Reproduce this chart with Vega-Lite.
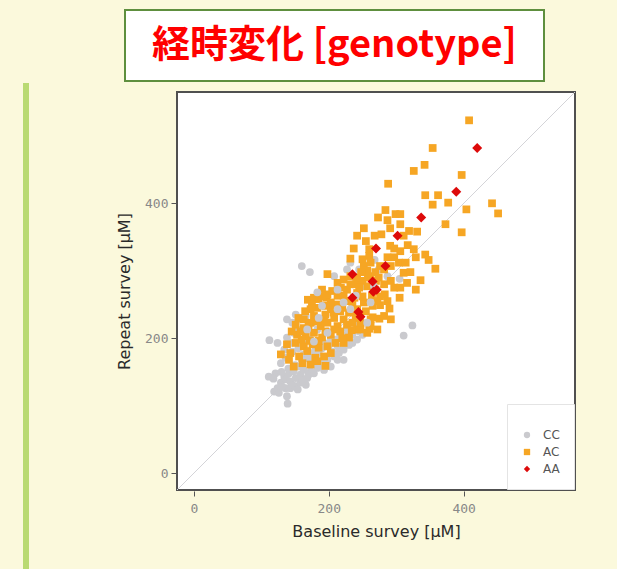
{
  "$schema": "https://vega.github.io/schema/vega-lite/v6.json",
  "background": "#fbf9dc",
  "padding": {"left": 23, "top": 9, "right": 60, "bottom": 0},
  "spacing": 86,
  "align": "none",
  "resolve": {"scale": {"color": "independent", "shape": "independent"}, "legend": {"color": "independent", "shape": "independent"}},
  "hconcat": [
    {
      "spacing": 12,
      "align": "none",
      "vconcat": [
        {
          "width": 6,
          "height": 61,
          "view": {"fill": null, "stroke": null},
          "data": {"values": [{"a": 1}]},
          "mark": {"type": "point", "opacity": 0},
          "encoding": {}
        },
        {
          "width": 6,
          "height": 500,
          "view": {"fill": "#b9da72", "stroke": null},
          "data": {"values": [{"a": 1}]},
          "mark": {"type": "point", "opacity": 0},
          "encoding": {}
        }
      ]
    },
    {
      "spacing": 8,
      "align": "none",
      "resolve": {"scale": {"color": "independent", "shape": "independent"}, "legend": {"color": "independent", "shape": "independent"}},
      "vconcat": [
        {
          "spacing": -57,
          "align": "none",
          "hconcat": [
            {
              "width": 1,
              "height": 71,
              "view": {"fill": null, "stroke": null},
              "data": {"values": [{"a": 1}]},
              "mark": {"type": "point", "opacity": 0},
              "encoding": {}
            },
            {
              "width": 419,
              "height": 71,
              "view": {"fill": "white", "stroke": "#5e8f3e", "strokeWidth": 2},
              "data": {"values": [{"label": "経時変化 [genotype]"}]},
              "mark": {"type": "text", "font": "Noto Sans CJK JP", "fontWeight": "bold", "fontSize": 38, "color": "#ff0000", "align": "center", "baseline": "middle"},
              "encoding": {"text": {"field": "label", "type": "nominal"}}
            }
          ]
        },
        {
          "width": 398,
          "height": 398,
          "view": {"fill": "white", "stroke": "#505050", "strokeWidth": 2},
          "layer": [
            {
              "data": {"values": [{"x": -25, "y": -25, "x2": 565, "y2": 565}]},
              "mark": {"type": "rule", "color": "#d4d4d8", "strokeWidth": 1},
              "encoding": {
                "x": {"field": "x", "type": "quantitative", "title": "Baseline survey [μM]", "scale": {"domain": [-25, 565], "nice": false, "zero": false}, "axis": {"values": [0, 200, 400]}},
                "y": {"field": "y", "type": "quantitative", "title": "Repeat survey [μM]", "scale": {"domain": [-25, 565], "nice": false, "zero": false}, "axis": {"values": [0, 200, 400]}},
                "x2": {"field": "x2"},
                "y2": {"field": "y2"}
              }
            },
            {
              "data": {"values": [
                {"genotype":"CC","baseline":160,"repeat":307},{"genotype":"CC","baseline":172,"repeat":298},{"genotype":"CC","baseline":112,"repeat":197},{"genotype":"CC","baseline":111,"repeat":143},{"genotype":"CC","baseline":138,"repeat":114},{"genotype":"CC","baseline":139,"repeat":103},{"genotype":"CC","baseline":311,"repeat":204},{"genotype":"CC","baseline":324,"repeat":219},{"genotype":"CC","baseline":305,"repeat":288},{"genotype":"CC","baseline":268,"repeat":316},{"genotype":"CC","baseline":227,"repeat":302},{"genotype":"CC","baseline":208,"repeat":292},{"genotype":"CC","baseline":124,"repeat":126},{"genotype":"CC","baseline":134,"repeat":143},
                {"genotype":"CC","baseline":129,"repeat":134},{"genotype":"CC","baseline":136,"repeat":139},{"genotype":"CC","baseline":143,"repeat":136},{"genotype":"CC","baseline":151,"repeat":141},{"genotype":"CC","baseline":141,"repeat":148},{"genotype":"CC","baseline":148,"repeat":151},{"genotype":"CC","baseline":158,"repeat":146},{"genotype":"CC","baseline":163,"repeat":153},{"genotype":"CC","baseline":156,"repeat":158},{"genotype":"CC","baseline":168,"repeat":141},{"genotype":"CC","baseline":173,"repeat":151},{"genotype":"CC","baseline":183,"repeat":156},{"genotype":"CC","baseline":178,"repeat":163},{"genotype":"CC","baseline":190,"repeat":163},{"genotype":"CC","baseline":198,"repeat":168},{"genotype":"CC","baseline":208,"repeat":173},{"genotype":"CC","baseline":215,"repeat":178},{"genotype":"CC","baseline":222,"repeat":183},{"genotype":"CC","baseline":235,"repeat":193},{"genotype":"CC","baseline":242,"repeat":198},{"genotype":"CC","baseline":250,"repeat":205},{"genotype":"CC","baseline":235,"repeat":205},{"genotype":"CC","baseline":129,"repeat":163},{"genotype":"CC","baseline":136,"repeat":171},{"genotype":"CC","baseline":134,"repeat":183},{"genotype":"CC","baseline":143,"repeat":193},{"genotype":"CC","baseline":138,"repeat":201},{"genotype":"CC","baseline":148,"repeat":208},{"genotype":"CC","baseline":153,"repeat":213},{"genotype":"CC","baseline":146,"repeat":223},{"genotype":"CC","baseline":158,"repeat":228},{"genotype":"CC","baseline":166,"repeat":233},{"genotype":"CC","baseline":176,"repeat":223},{"genotype":"CC","baseline":163,"repeat":176},{"genotype":"CC","baseline":173,"repeat":178},{"genotype":"CC","baseline":185,"repeat":178},{"genotype":"CC","baseline":193,"repeat":193},{"genotype":"CC","baseline":203,"repeat":198},{"genotype":"CC","baseline":217,"repeat":203},{"genotype":"CC","baseline":213,"repeat":188},{"genotype":"CC","baseline":227,"repeat":215},{"genotype":"CC","baseline":240,"repeat":223},{"genotype":"CC","baseline":252,"repeat":277},{"genotype":"CC","baseline":245,"repeat":302},{"genotype":"CC","baseline":232,"repeat":312},{"genotype":"CC","baseline":287,"repeat":292},{"genotype":"CC","baseline":274,"repeat":302},{"genotype":"CC","baseline":119,"repeat":121},{"genotype":"CC","baseline":126,"repeat":119},{"genotype":"CC","baseline":136,"repeat":126},{"genotype":"CC","baseline":143,"repeat":126},{"genotype":"CC","baseline":151,"repeat":129},{"genotype":"CC","baseline":158,"repeat":134},{"genotype":"CC","baseline":166,"repeat":131},{"genotype":"CC","baseline":121,"repeat":148},{"genotype":"CC","baseline":124,"repeat":193},{"genotype":"CC","baseline":193,"repeat":153},{"genotype":"CC","baseline":203,"repeat":158},{"genotype":"CC","baseline":222,"repeat":168},{"genotype":"CC","baseline":183,"repeat":213},{"genotype":"CC","baseline":198,"repeat":210},{"genotype":"CC","baseline":173,"repeat":198},{"genotype":"CC","baseline":161,"repeat":193},{"genotype":"CC","baseline":138,"repeat":228},{"genotype":"CC","baseline":151,"repeat":235},{"genotype":"CC","baseline":131,"repeat":128},{"genotype":"CC","baseline":146,"repeat":131},{"genotype":"CC","baseline":154,"repeat":124},{"genotype":"CC","baseline":161,"repeat":138},{"genotype":"CC","baseline":170,"repeat":146},{"genotype":"CC","baseline":178,"repeat":148},{"genotype":"CC","baseline":187,"repeat":160},{"genotype":"CC","baseline":195,"repeat":165},{"genotype":"CC","baseline":205,"repeat":180},{"genotype":"CC","baseline":213,"repeat":168},
                {"genotype":"CC","baseline":140,"repeat":155},{"genotype":"CC","baseline":150,"repeat":160},{"genotype":"CC","baseline":160,"repeat":168},{"genotype":"CC","baseline":170,"repeat":170},{"genotype":"CC","baseline":180,"repeat":182},{"genotype":"CC","baseline":190,"repeat":185},{"genotype":"CC","baseline":200,"repeat":190},{"genotype":"CC","baseline":210,"repeat":198},{"genotype":"CC","baseline":225,"repeat":205},{"genotype":"CC","baseline":230,"repeat":190},{"genotype":"CC","baseline":245,"repeat":210},{"genotype":"CC","baseline":130,"repeat":150},{"genotype":"CC","baseline":118,"repeat":140},{"genotype":"CC","baseline":155,"repeat":185},{"genotype":"CC","baseline":146,"repeat":180},{"genotype":"CC","baseline":165,"repeat":208},
                {"genotype":"AC","baseline":408,"repeat":523},{"genotype":"AC","baseline":354,"repeat":482},{"genotype":"AC","baseline":342,"repeat":457},{"genotype":"AC","baseline":326,"repeat":448},{"genotype":"AC","baseline":397,"repeat":442},{"genotype":"AC","baseline":288,"repeat":429},{"genotype":"AC","baseline":343,"repeat":412},{"genotype":"AC","baseline":362,"repeat":412},{"genotype":"AC","baseline":354,"repeat":398},{"genotype":"AC","baseline":377,"repeat":401},{"genotype":"AC","baseline":404,"repeat":391},{"genotype":"AC","baseline":442,"repeat":400},{"genotype":"AC","baseline":451,"repeat":385},{"genotype":"AC","baseline":397,"repeat":357},{"genotype":"AC","baseline":373,"repeat":369},{"genotype":"AC","baseline":284,"repeat":390},{"genotype":"AC","baseline":273,"repeat":379},{"genotype":"AC","baseline":299,"repeat":384},{"genotype":"AC","baseline":306,"repeat":384},{"genotype":"AC","baseline":287,"repeat":375},{"genotype":"AC","baseline":306,"repeat":369},{"genotype":"AC","baseline":319,"repeat":359},{"genotype":"AC","baseline":331,"repeat":358},{"genotype":"AC","baseline":291,"repeat":363},{"genotype":"AC","baseline":252,"repeat":363},{"genotype":"AC","baseline":242,"repeat":352},{"genotype":"AC","baseline":278,"repeat":354},{"genotype":"AC","baseline":255,"repeat":344},{"genotype":"AC","baseline":317,"repeat":338},{"genotype":"AC","baseline":291,"repeat":337},{"genotype":"AC","baseline":297,"repeat":333},{"genotype":"AC","baseline":237,"repeat":333},{"genotype":"AC","baseline":260,"repeat":332},{"genotype":"AC","baseline":343,"repeat":324},{"genotype":"AC","baseline":329,"repeat":320},{"genotype":"AC","baseline":348,"repeat":316},{"genotype":"AC","baseline":358,"repeat":303},{"genotype":"AC","baseline":326,"repeat":332},{"genotype":"AC","baseline":306,"repeat":329},{"genotype":"AC","baseline":297,"repeat":320},{"genotype":"AC","baseline":304,"repeat":312},{"genotype":"AC","baseline":232,"repeat":318},{"genotype":"AC","baseline":250,"repeat":317},{"genotype":"AC","baseline":311,"repeat":297},{"genotype":"AC","baseline":321,"repeat":298},{"genotype":"AC","baseline":336,"repeat":286},{"genotype":"AC","baseline":297,"repeat":275},{"genotype":"AC","baseline":306,"repeat":275},{"genotype":"AC","baseline":305,"repeat":260},{"genotype":"AC","baseline":276,"repeat":262},{"genotype":"AC","baseline":276,"repeat":249},{"genotype":"AC","baseline":290,"repeat":244},{"genotype":"AC","baseline":265,"repeat":231},{"genotype":"AC","baseline":275,"repeat":229},{"genotype":"AC","baseline":260,"repeat":214},{"genotype":"AC","baseline":247,"repeat":213},
                {"genotype":"AC","baseline":268,"repeat":352},{"genotype":"AC","baseline":311,"repeat":352},{"genotype":"AC","baseline":260,"repeat":322},{"genotype":"AC","baseline":287,"repeat":320},{"genotype":"AC","baseline":314,"repeat":312},{"genotype":"AC","baseline":292,"repeat":307},{"genotype":"AC","baseline":316,"repeat":282},{"genotype":"AC","baseline":329,"repeat":272},{"genotype":"AC","baseline":292,"repeat":285},
                {"genotype":"AC","baseline":198,"repeat":295},{"genotype":"AC","baseline":169,"repeat":257},{"genotype":"AC","baseline":197,"repeat":260},{"genotype":"AC","baseline":213,"repeat":263},{"genotype":"AC","baseline":227,"repeat":272},{"genotype":"AC","baseline":240,"repeat":280},{"genotype":"AC","baseline":250,"repeat":285},{"genotype":"AC","baseline":262,"repeat":292},{"genotype":"AC","baseline":274,"repeat":290},{"genotype":"AC","baseline":257,"repeat":277},{"genotype":"AC","baseline":269,"repeat":272},{"genotype":"AC","baseline":282,"repeat":280},{"genotype":"AC","baseline":242,"repeat":267},{"genotype":"AC","baseline":222,"repeat":263},{"genotype":"AC","baseline":235,"repeat":253},{"genotype":"AC","baseline":213,"repeat":250},{"genotype":"AC","baseline":203,"repeat":243},{"genotype":"AC","baseline":183,"repeat":245},{"genotype":"AC","baseline":173,"repeat":243},{"genotype":"AC","baseline":217,"repeat":240},{"genotype":"AC","baseline":230,"repeat":238},{"genotype":"AC","baseline":240,"repeat":233},{"genotype":"AC","baseline":163,"repeat":228},{"genotype":"AC","baseline":178,"repeat":233},{"genotype":"AC","baseline":193,"repeat":228},{"genotype":"AC","baseline":208,"repeat":230},{"genotype":"AC","baseline":222,"repeat":228},{"genotype":"AC","baseline":235,"repeat":223},{"genotype":"AC","baseline":151,"repeat":220},{"genotype":"AC","baseline":163,"repeat":215},{"genotype":"AC","baseline":173,"repeat":223},{"genotype":"AC","baseline":188,"repeat":218},{"genotype":"AC","baseline":198,"repeat":223},{"genotype":"AC","baseline":213,"repeat":218},{"genotype":"AC","baseline":227,"repeat":220},{"genotype":"AC","baseline":242,"repeat":213},{"genotype":"AC","baseline":153,"repeat":205},{"genotype":"AC","baseline":166,"repeat":203},{"genotype":"AC","baseline":178,"repeat":208},{"genotype":"AC","baseline":190,"repeat":201},{"genotype":"AC","baseline":203,"repeat":205},{"genotype":"AC","baseline":217,"repeat":210},{"genotype":"AC","baseline":230,"repeat":201},{"genotype":"AC","baseline":138,"repeat":191},{"genotype":"AC","baseline":151,"repeat":193},{"genotype":"AC","baseline":163,"repeat":188},{"genotype":"AC","baseline":176,"repeat":191},{"genotype":"AC","baseline":185,"repeat":186},{"genotype":"AC","baseline":198,"repeat":188},{"genotype":"AC","baseline":210,"repeat":193},{"genotype":"AC","baseline":129,"repeat":176},{"genotype":"AC","baseline":143,"repeat":178},{"genotype":"AC","baseline":156,"repeat":173},{"genotype":"AC","baseline":168,"repeat":181},{"genotype":"AC","baseline":180,"repeat":171},{"genotype":"AC","baseline":193,"repeat":173},{"genotype":"AC","baseline":203,"repeat":178},{"genotype":"AC","baseline":148,"repeat":158},{"genotype":"AC","baseline":161,"repeat":163},{"genotype":"AC","baseline":173,"repeat":161},{"genotype":"AC","baseline":195,"repeat":159},{"genotype":"AC","baseline":183,"repeat":166},{"genotype":"AC","baseline":141,"repeat":168},{"genotype":"AC","baseline":222,"repeat":193},{"genotype":"AC","baseline":198,"repeat":265},{"genotype":"AC","baseline":190,"repeat":272},{"genotype":"AC","baseline":203,"repeat":253},{"genotype":"AC","baseline":213,"repeat":282},{"genotype":"AC","baseline":222,"repeat":287},{"genotype":"AC","baseline":252,"repeat":307},{"genotype":"AC","baseline":262,"repeat":312},{"genotype":"AC","baseline":257,"repeat":300},{"genotype":"AC","baseline":276,"repeat":307},{"genotype":"AC","baseline":282,"repeat":302},{"genotype":"AC","baseline":269,"repeat":298},{"genotype":"AC","baseline":264,"repeat":263},{"genotype":"AC","baseline":252,"repeat":253},{"genotype":"AC","baseline":247,"repeat":223},{"genotype":"AC","baseline":262,"repeat":228},{"genotype":"AC","baseline":282,"repeat":233},{"genotype":"AC","baseline":292,"repeat":228},{"genotype":"AC","baseline":272,"repeat":213},{"genotype":"AC","baseline":262,"repeat":218},{"genotype":"AC","baseline":257,"repeat":208},{"genotype":"AC","baseline":185,"repeat":258},{"genotype":"AC","baseline":195,"repeat":248},{"genotype":"AC","baseline":178,"repeat":260},{"genotype":"AC","baseline":242,"repeat":243},{"genotype":"AC","baseline":232,"repeat":292},{"genotype":"AC","baseline":242,"repeat":290},
                {"genotype":"AC","baseline":158,"repeat":210},{"genotype":"AC","baseline":170,"repeat":218},{"genotype":"AC","baseline":183,"repeat":225},{"genotype":"AC","baseline":195,"repeat":235},{"genotype":"AC","baseline":207,"repeat":238},{"genotype":"AC","baseline":220,"repeat":245},{"genotype":"AC","baseline":228,"repeat":255},{"genotype":"AC","baseline":238,"repeat":260},{"genotype":"AC","baseline":250,"repeat":262},{"genotype":"AC","baseline":245,"repeat":275},{"genotype":"AC","baseline":232,"repeat":280},{"genotype":"AC","baseline":218,"repeat":275},{"genotype":"AC","baseline":205,"repeat":270},{"genotype":"AC","baseline":190,"repeat":262},{"genotype":"AC","baseline":175,"repeat":250},{"genotype":"AC","baseline":165,"repeat":240},{"genotype":"AC","baseline":155,"repeat":230},{"genotype":"AC","baseline":145,"repeat":210},{"genotype":"AC","baseline":160,"repeat":198},{"genotype":"AC","baseline":172,"repeat":196},{"genotype":"AC","baseline":185,"repeat":196},{"genotype":"AC","baseline":195,"repeat":210},{"genotype":"AC","baseline":208,"repeat":213},{"genotype":"AC","baseline":220,"repeat":200},{"genotype":"AC","baseline":234,"repeat":212},{"genotype":"AC","baseline":246,"repeat":230},{"genotype":"AC","baseline":255,"repeat":240},{"genotype":"AC","baseline":265,"repeat":248},{"genotype":"AC","baseline":272,"repeat":255},{"genotype":"AC","baseline":283,"repeat":265},{"genotype":"AC","baseline":287,"repeat":255},{"genotype":"AC","baseline":258,"repeat":290},{"genotype":"AC","baseline":248,"repeat":298},{"genotype":"AC","baseline":270,"repeat":285},
                {"genotype":"CC","baseline":232,"repeat":243},{"genotype":"CC","baseline":222,"repeat":253},{"genotype":"CC","baseline":240,"repeat":263},{"genotype":"CC","baseline":213,"repeat":272},{"genotype":"CC","baseline":183,"repeat":268},{"genotype":"CC","baseline":262,"repeat":253},{"genotype":"CC","baseline":257,"repeat":223},{"genotype":"CC","baseline":213,"repeat":243},{"genotype":"CC","baseline":190,"repeat":248},{"genotype":"CC","baseline":267,"repeat":277},{"genotype":"CC","baseline":198,"repeat":208},{"genotype":"CC","baseline":168,"repeat":213},{"genotype":"CC","baseline":185,"repeat":230},{"genotype":"CC","baseline":178,"repeat":195}
              ]},
              "mark": {"type": "point", "filled": true, "opacity": 1, "size": 60},
              "encoding": {
                "x": {"field": "baseline", "type": "quantitative", "title": "Baseline survey [μM]", "axis": {"values": [0, 200, 400]}},
                "y": {"field": "repeat", "type": "quantitative", "title": "Repeat survey [μM]", "axis": {"values": [0, 200, 400]}},
                "color": {"field": "genotype", "type": "nominal", "title": " ", "scale": {"domain": ["CC", "AC", "AA"], "range": ["#cacace", "#f6a624", "#dd0a0a"]}, "legend": {"orient": "bottom-right"}},
                "shape": {"field": "genotype", "type": "nominal", "title": " ", "scale": {"domain": ["CC", "AC", "AA"], "range": ["circle", "square", "diamond"]}, "legend": {"orient": "bottom-right"}}
              }
            },
            {
              "data": {"values": [
                {"genotype":"AA","baseline":420,"repeat":482},{"genotype":"AA","baseline":389,"repeat":417},{"genotype":"AA","baseline":337,"repeat":379},{"genotype":"AA","baseline":302,"repeat":352},{"genotype":"AA","baseline":270,"repeat":333},{"genotype":"AA","baseline":284,"repeat":307},{"genotype":"AA","baseline":235,"repeat":295},{"genotype":"AA","baseline":265,"repeat":284},{"genotype":"AA","baseline":271,"repeat":272},{"genotype":"AA","baseline":266,"repeat":269},{"genotype":"AA","baseline":235,"repeat":260},{"genotype":"AA","baseline":244,"repeat":239},{"genotype":"AA","baseline":247,"repeat":232}
              ]},
              "mark": {"type": "point", "filled": true, "opacity": 1, "size": 100},
              "encoding": {
                "x": {"field": "baseline", "type": "quantitative", "title": "Baseline survey [μM]", "axis": {"values": [0, 200, 400]}},
                "y": {"field": "repeat", "type": "quantitative", "title": "Repeat survey [μM]", "axis": {"values": [0, 200, 400]}},
                "color": {"field": "genotype", "type": "nominal", "title": " ", "legend": {"orient": "bottom-right"}},
                "shape": {"field": "genotype", "type": "nominal", "title": " ", "legend": {"orient": "bottom-right"}}
              }
            }
          ]
        }
      ]
    }
  ],
  "config": {
    "axis": {"domain": false, "grid": false, "ticks": true, "tickColor": "#555555", "tickSize": 5, "tickWidth": 1, "labelFont": "DejaVu Sans Mono", "labelFontSize": 13, "labelColor": "#888888", "titleFont": "DejaVu Sans", "titleFontSize": 16, "titleFontWeight": "normal", "titleColor": "#2a2a2a", "offset": 1},
    "axisX": {"labelPadding": 6, "titlePadding": 8},
    "axisY": {"labelPadding": 3, "titlePadding": 12},
    "legend": {"orient": "bottom-right", "offset": 1, "padding": 14, "fillColor": "white", "strokeColor": "#e4e4e4", "labelFont": "DejaVu Sans", "labelFontSize": 12, "labelColor": "#555555", "titleFontSize": 8, "titlePadding": 3, "symbolSize": 40, "rowPadding": 5, "labelOffset": 10, "symbolStrokeWidth": 0}
  }
}
